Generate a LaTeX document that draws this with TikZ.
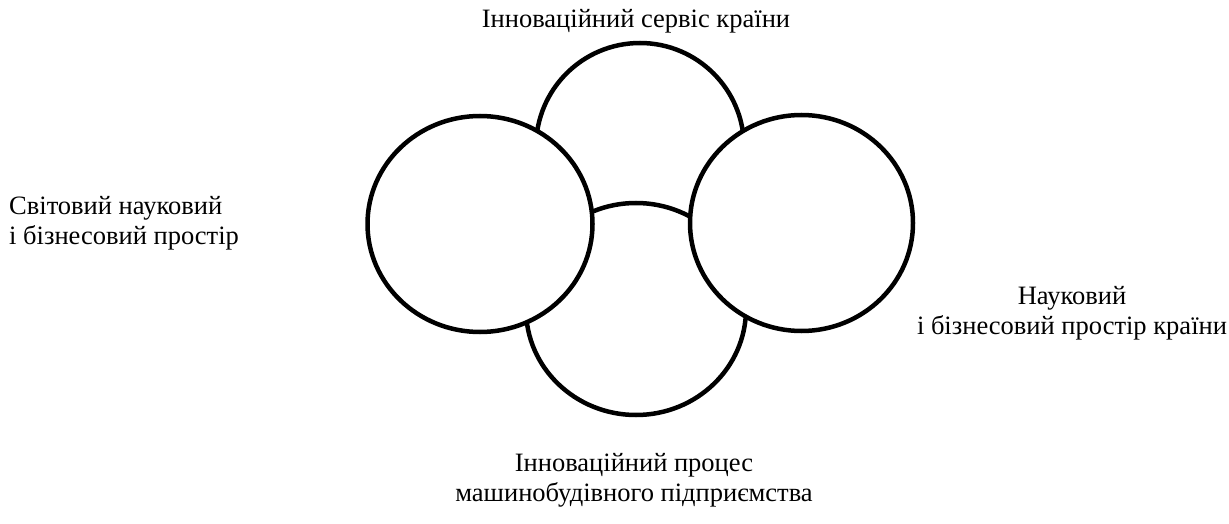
\documentclass[tikz,border=0pt]{standalone}
\usepackage{fontspec}
\setmainfont{Liberation Serif}
\usetikzlibrary{shapes.geometric}
\begin{document}
\begin{tikzpicture}[x=1pt,y=-1pt,
  blob/.style={ellipse, draw=black, fill=white, line width=4.5pt, inner sep=0pt},
  lbl/.style={font=\fontsize{26.5}{30}\selectfont, inner sep=0pt}]
\useasboundingbox (0,0) rectangle (1229,524);
\node[blob, minimum width=208pt, minimum height=208pt] (top) at (640,147) {};
\node[blob, minimum width=220pt, minimum height=212pt] (bottom) at (636,309) {};
\node[blob, minimum width=225pt, minimum height=216pt] (left) at (480,224) {};
\node[blob, minimum width=223pt, minimum height=216pt] (right) at (801.5,223) {};
\node[lbl] (ttop) at (636,21) {Інноваційний сервіс країни};
\node[lbl, anchor=west, align=left] (tleft) at (9,223) {Світовий науковий\\і бізнесовий простір};
\node[lbl, align=center] (tright) at (1072,313) {Науковий\\і бізнесовий простір країни};
\node[lbl, align=center] (tbottom) at (634,480) {Інноваційний процес\\машинобудівного підприємства};
\end{tikzpicture}
\end{document}
